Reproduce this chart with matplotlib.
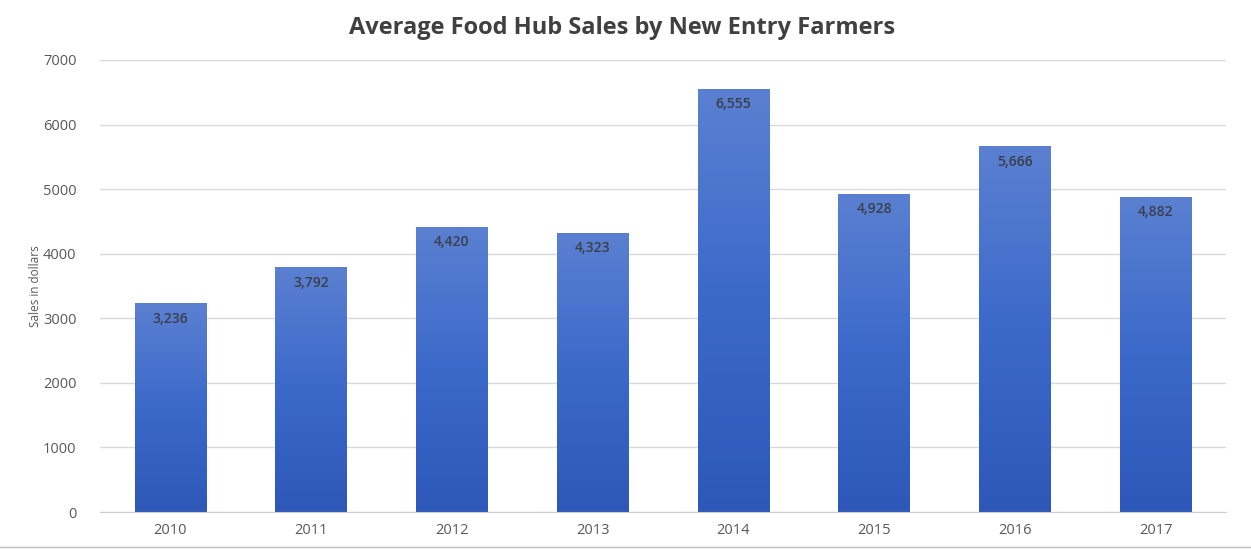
import numpy as np
import matplotlib
matplotlib.use('Agg')
import matplotlib.pyplot as plt

plt.rcParams['font.family'] = ['Open Sans', 'DejaVu Sans']

years = ['2010', '2011', '2012', '2013', '2014', '2015', '2016', '2017']
sales = [3236, 3792, 4420, 4323, 6555, 4928, 5666, 4882]

fig = plt.figure(figsize=(12.51, 5.5), dpi=100)
ax = fig.add_axes([0.080, 0.069, 0.900, 0.822])

x = np.arange(len(years))
bars = ax.bar(x, sales, width=0.51, color='#3f6cc8', zorder=2)

# vertical gradient in each bar, lighter at the top
grad = np.linspace(0, 1, 256).reshape(-1, 1)
cmap = matplotlib.colors.LinearSegmentedColormap.from_list('blues', ['#2d58b8', '#3b69ca', '#5b80d1'])
for b in bars:
    bx, w, h = b.get_x(), b.get_width(), b.get_height()
    im = ax.imshow(grad, extent=[bx, bx + w, 0, h], origin='lower', cmap=cmap,
                   aspect='auto', zorder=3)
    im.set_clip_path(b)
    b.set_facecolor('none')

for xi, v in zip(x, sales):
    ax.text(xi, v - 240, f'{v:,}', ha='center', va='center', fontsize=10,
            color='#3a3f4a', fontweight='semibold', zorder=4)

ax.set_xlim(-0.5, len(years) - 0.5)
ax.set_ylim(0, 7000)
ax.set_yticks(range(0, 7001, 1000))
ax.set_xticks(x)
ax.set_xticklabels(years)
ax.tick_params(axis='both', length=0, labelsize=10.5, colors='#595959')
ax.tick_params(axis='y', pad=17)
ax.tick_params(axis='x', pad=8)
ax.grid(axis='y', color='#d9d9d9', linewidth=1, zorder=0)
ax.set_axisbelow(True)
for s in ['top', 'right', 'left']:
    ax.spines[s].set_visible(False)
ax.spines['bottom'].set_color('#d0d0d0')
ax.spines['bottom'].set_zorder(5)

ax.set_ylabel('Sales in dollars', fontsize=8.5, color='#595959')
ax.yaxis.set_label_coords(-0.052, 0.5)
fig.text(0.497, 0.950, 'Average Food Hub Sales by New Entry Farmers', ha='center', va='center',
         fontsize=17, fontweight='bold', color='#404040')

fig.add_artist(plt.Line2D([0, 1], [0.006, 0.006], color='#bfbfbf', linewidth=1))

fig.savefig('out.png', dpi=100)
